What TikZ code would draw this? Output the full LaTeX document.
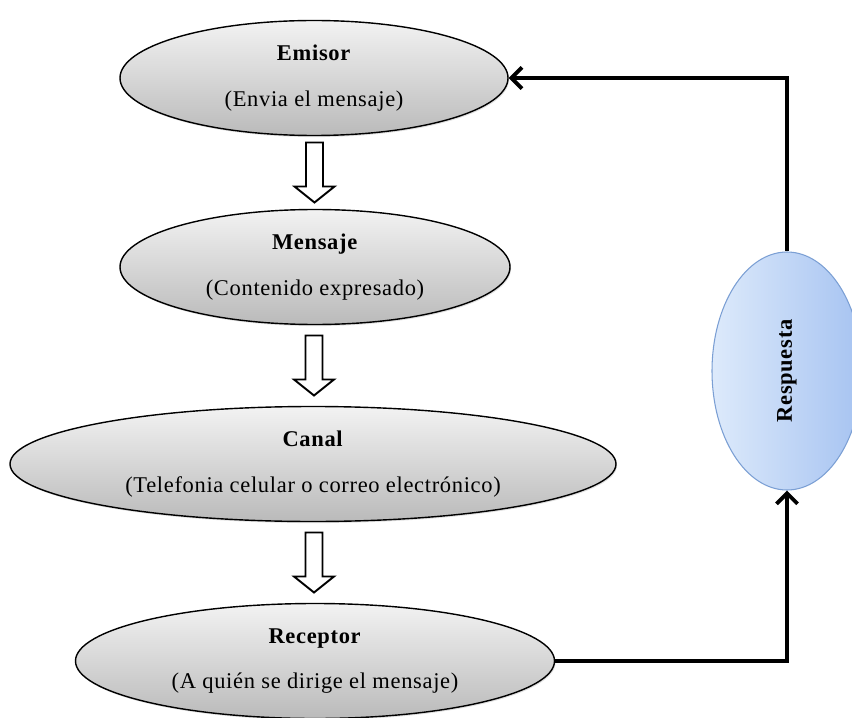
\documentclass[tikz,border=0pt]{standalone}
\usepackage{fontspec}
\setmainfont[LetterSpace=3]{Liberation Serif}
\usepackage{xcolor}
\usepackage{tikz}
\usetikzlibrary{shapes,arrows,positioning,calc,shadows,arrows.meta}

\definecolor{azulclaro}{HTML}{DDEAFB}
\definecolor{azulmedio}{HTML}{A6C3F1}
\definecolor{azulborde}{HTML}{7B9FD4}

\begin{document}
\begin{tikzpicture}[
        etapa/.style={ellipse, draw=black, line width=0.8pt, top color=black!5, bottom color=black!27,
            minimum height=2.3cm, inner sep=0pt, align=center, font=\fontsize{12.8}{15}\selectfont,
            drop shadow={opacity=0.25, shadow xshift=0.6pt, shadow yshift=-0.9pt}},
        flecha/.pic={\draw[line width=1.1pt, fill=white] (-0.17,0.6) -- (0.17,0.6) -- (0.17,-0.28) -- (0.4,-0.28)
            -- (0,-0.6) -- (-0.4,-0.28) -- (-0.17,-0.28) -- cycle;},
        retorno/.style={line width=2.2pt, -{Straight Barb[length=6pt,width=12pt]}}
    ]
        \useasboundingbox (0,0) rectangle (17.04,14.34);
        % Etapas
        \node[etapa, minimum width=7.76cm] (emisor) at (6.28,12.78) {\textbf{Emisor}\\[11pt] (Envia el mensaje)};
        \node[etapa, minimum width=7.80cm] (mensaje) at (6.30,9.00) {\textbf{Mensaje}\\[11pt] (Contenido expresado)};
        \node[etapa, minimum width=12.12cm] (canal) at (6.26,5.06) {\textbf{Canal}\\[11pt] (Telefonia celular o correo electrónico)};
        \node[etapa, minimum width=9.58cm] (receptor) at (6.30,1.12) {\textbf{Receptor}\\[11pt] (A quién se dirige el mensaje)};
        \node[ellipse, draw=azulborde, line width=0.6pt, rotate=90, left color=azulclaro, right color=azulmedio,
            minimum width=4.76cm, minimum height=3cm, inner sep=0pt,
            font=\fontsize{12.8}{15}\selectfont\bfseries] (respuesta) at (15.74,6.92) {Respuesta};
        % Flechas huecas
        \foreach \a/\b in {emisor/mensaje,mensaje/canal,canal/receptor}
            \pic (f-\a) at ($(\a.south)!0.5!(\b.north)$) {flecha};
        % Retroalimentacion (nodo girado: west abajo, east arriba)
        \draw[retorno] (receptor.east) -| (respuesta.west);
        \draw[retorno] (respuesta.east) |- (emisor.east);
    \end{tikzpicture}
\end{document}
